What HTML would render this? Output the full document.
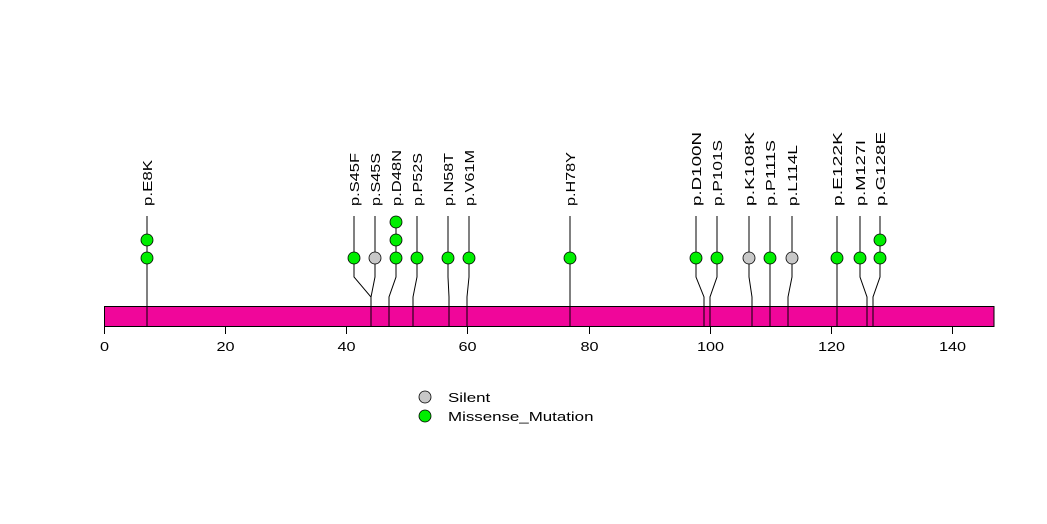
<!DOCTYPE html>
<html><head><meta charset="utf-8"><style>
html,body{margin:0;padding:0;background:#fff;}
svg{display:block;}
text{font-family:"Liberation Sans",sans-serif;font-size:13px;fill:#000;}
</style></head><body>
<svg width="1047" height="524" viewBox="0 0 1047 524" xmlns="http://www.w3.org/2000/svg">
<rect x="104.5" y="306.5" width="889.5" height="20" fill="#f0069a" stroke="#000" stroke-width="1"/>
<g stroke="#000" stroke-width="1" fill="none">
<polyline points="147,216 147,327"/>
<polyline points="354,216 354,277 371,297 371,327"/>
<polyline points="375,216 375,277 371,297 371,327"/>
<polyline points="396,216 396,277 389,297 389,327"/>
<polyline points="417,216 417,277 413,297 413,327"/>
<polyline points="448,216 448,277 449,297 449,327"/>
<polyline points="469,216 469,277 467,297 467,327"/>
<polyline points="570,216 570,327"/>
<polyline points="696,216 696,277 704,297 704,327"/>
<polyline points="717,216 717,277 710,297 710,327"/>
<polyline points="749,216 749,277 752,297 752,327"/>
<polyline points="770,216 770,327"/>
<polyline points="792,216 792,277 788,297 788,327"/>
<polyline points="837,216 837,327"/>
<polyline points="860,216 860,277 867,297 867,327"/>
<polyline points="880,216 880,277 873,297 873,327"/>
<path d="M104.5,327V334 M225.5,327V334 M346.5,327V334 M467.5,327V334 M589.5,327V334 M710.5,327V334 M831.5,327V334 M952.5,327V334"/>
</g>
<g stroke="#000" stroke-width="0.8">
<circle cx="147" cy="258" r="6" fill="#00ee00"/>
<circle cx="147" cy="240" r="6" fill="#00ee00"/>
<circle cx="354" cy="258" r="6" fill="#00ee00"/>
<circle cx="375" cy="258" r="6" fill="#c8c8c8"/>
<circle cx="396" cy="258" r="6" fill="#00ee00"/>
<circle cx="396" cy="240" r="6" fill="#00ee00"/>
<circle cx="396" cy="222" r="6" fill="#00ee00"/>
<circle cx="417" cy="258" r="6" fill="#00ee00"/>
<circle cx="448" cy="258" r="6" fill="#00ee00"/>
<circle cx="469" cy="258" r="6" fill="#00ee00"/>
<circle cx="570" cy="258" r="6" fill="#00ee00"/>
<circle cx="696" cy="258" r="6" fill="#00ee00"/>
<circle cx="717" cy="258" r="6" fill="#00ee00"/>
<circle cx="749" cy="258" r="6" fill="#c8c8c8"/>
<circle cx="770" cy="258" r="6" fill="#00ee00"/>
<circle cx="792" cy="258" r="6" fill="#c8c8c8"/>
<circle cx="837" cy="258" r="6" fill="#00ee00"/>
<circle cx="860" cy="258" r="6" fill="#00ee00"/>
<circle cx="880" cy="258" r="6" fill="#00ee00"/>
<circle cx="880" cy="240" r="6" fill="#00ee00"/>
<circle cx="425" cy="397" r="6" fill="#c8c8c8"/>
<circle cx="425" cy="416" r="6" fill="#00ee00"/>
</g>
<g lengthAdjust="spacingAndGlyphs">
<text transform="translate(152,206) rotate(-90)" textLength="46" lengthAdjust="spacingAndGlyphs">p.E8K</text>
<text transform="translate(359,206) rotate(-90)" textLength="53" lengthAdjust="spacingAndGlyphs">p.S45F</text>
<text transform="translate(380,206) rotate(-90)" textLength="53" lengthAdjust="spacingAndGlyphs">p.S45S</text>
<text transform="translate(401,206) rotate(-90)" textLength="56" lengthAdjust="spacingAndGlyphs">p.D48N</text>
<text transform="translate(422,206) rotate(-90)" textLength="53" lengthAdjust="spacingAndGlyphs">p.P52S</text>
<text transform="translate(453,206) rotate(-90)" textLength="53" lengthAdjust="spacingAndGlyphs">p.N58T</text>
<text transform="translate(474,206) rotate(-90)" textLength="56" lengthAdjust="spacingAndGlyphs">p.V61M</text>
<text transform="translate(575,206) rotate(-90)" textLength="54" lengthAdjust="spacingAndGlyphs">p.H78Y</text>
<text transform="translate(701,206) rotate(-90)" textLength="74" lengthAdjust="spacingAndGlyphs">p.D100N</text>
<text transform="translate(722,206) rotate(-90)" textLength="66" lengthAdjust="spacingAndGlyphs">p.P101S</text>
<text transform="translate(754,206) rotate(-90)" textLength="74" lengthAdjust="spacingAndGlyphs">p.K108K</text>
<text transform="translate(775,206) rotate(-90)" textLength="66" lengthAdjust="spacingAndGlyphs">p.P111S</text>
<text transform="translate(797,206) rotate(-90)" textLength="61" lengthAdjust="spacingAndGlyphs">p.L114L</text>
<text transform="translate(842,206) rotate(-90)" textLength="74" lengthAdjust="spacingAndGlyphs">p.E122K</text>
<text transform="translate(865,206) rotate(-90)" textLength="66" lengthAdjust="spacingAndGlyphs">p.M127I</text>
<text transform="translate(885,206) rotate(-90)" textLength="74" lengthAdjust="spacingAndGlyphs">p.G128E</text>
</g>
<g text-anchor="middle">
<text transform="translate(104.5,351) scale(1.25,1)">0</text>
<text transform="translate(225.5,351) scale(1.25,1)">20</text>
<text transform="translate(346.5,351) scale(1.25,1)">40</text>
<text transform="translate(467.5,351) scale(1.25,1)">60</text>
<text transform="translate(589.5,351) scale(1.25,1)">80</text>
<text transform="translate(710.5,351) scale(1.25,1)">100</text>
<text transform="translate(831.5,351) scale(1.25,1)">120</text>
<text transform="translate(952.5,351) scale(1.25,1)">140</text>
</g>
<text transform="translate(448,402) scale(1.3,1)">Silent</text>
<text transform="translate(448,421) scale(1.3,1)">Missense_Mutation</text>
</svg>
</body></html>
